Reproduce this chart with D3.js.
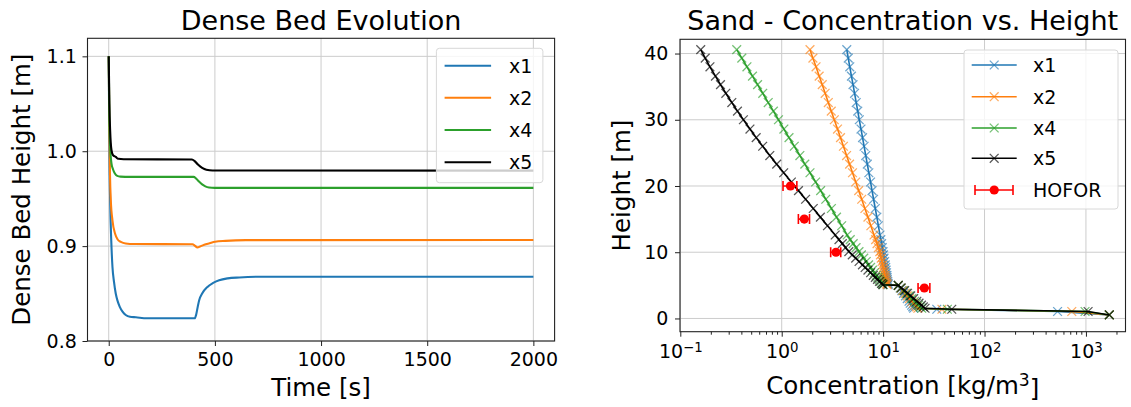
<!DOCTYPE html>
<html>
<head>
<meta charset="utf-8">
<script src="https://cdn.jsdelivr.net/npm/d3@7"></script>
<style>
  body { margin: 0; background: #fff; }
  svg { display: block; }
  text { font-family: "DejaVu Sans", sans-serif; fill: #000; }
</style>
</head>
<body>
<svg id="fig" width="1131" height="407"></svg>
<script>
// ---------------- Dense bed evolution (time series) ----------------
const bedNames = ["x1", "x2", "x4", "x5"];
const timeTicks = [0, 500, 1000, 1500, 2000];
const bedTicks = [0.8, 0.9, 1.0, 1.1];

const bedTimeX1 = [0, 3, 6.6, 12, 17.6, 25, 33, 42, 52, 65, 80, 100, 128, 180, 300, 405, 412, 420, 426, 440, 465, 490, 520, 560, 615, 709, 2000];
const bedX1 = [1.1, 1.0, 0.948, 0.905, 0.878, 0.862, 0.85, 0.842, 0.836, 0.831, 0.8274, 0.8255, 0.825, 0.824, 0.8239, 0.8239, 0.828, 0.837, 0.843, 0.85, 0.857, 0.861, 0.864, 0.866, 0.867, 0.8677, 0.8677];

const bedTimeX2 = [0, 3, 6, 9.8, 17.6, 30, 42, 57, 80, 120, 395, 405, 418, 430, 450, 475, 501, 550, 646, 2000];
const bedX2 = [1.1, 1.02, 0.975, 0.948, 0.927, 0.913, 0.907, 0.9045, 0.9028, 0.9022, 0.902, 0.9005, 0.8986, 0.8995, 0.9015, 0.903, 0.9045, 0.9055, 0.9063, 0.9065];

const bedTimeX4 = [0, 3, 6.6, 13, 20, 29, 40, 55, 100, 400, 410, 425, 440, 455, 472, 500, 2000];
const bedX4 = [1.1, 1.03, 1.005, 0.987, 0.981, 0.9765, 0.974, 0.9732, 0.973, 0.973, 0.9715, 0.968, 0.965, 0.963, 0.9618, 0.9614, 0.9614];

const bedTimeX5 = [0, 3, 6.6, 13, 20, 33, 45, 70, 392, 405, 420, 440, 460, 489, 2000];
const bedX5 = [1.1, 1.05, 1.022, 1.001, 0.996, 0.994, 0.992, 0.9915, 0.9913, 0.9895, 0.986, 0.9825, 0.9805, 0.9797, 0.9795];

// ---------------- Sand concentration profiles ----------------
const profileNames = ["x1", "x2", "x4", "x5"];
const concTicks = [0.1, 1, 10, 100, 1000];
const concTickExp = ["\u22121", "0", "1", "2", "3"];
const heightTicks = [0, 10, 20, 30, 40];

const heights = [40.6, 39.3, 38.0, 36.6, 35.3, 34.0, 32.6, 31.3, 30.0, 28.6, 27.3, 26.0, 24.6, 23.3, 22.0, 20.6, 19.3, 18.0, 16.6, 15.3, 14.0, 12.6,
  11.9, 11.3, 10.7, 10.1, 9.6, 9.1, 8.6, 8.1, 7.7, 7.3, 6.9, 6.5, 6.2, 5.9, 5.6, 5.3, 5.1,
  5.0, 4.6, 4.2, 3.8, 3.4, 3.0, 2.6, 2.3, 2.0, 1.75, 1.54,
  1.39, 1.05, 0.53];

const concX1 = [4.38, 4.53, 4.69, 4.87, 5.05, 5.23, 5.43, 5.62, 5.82, 6.05, 6.27, 6.49, 6.74, 6.98, 7.23, 7.52, 7.78, 8.05, 8.37, 8.67, 8.97, 9.31,
  9.49, 9.66, 9.81, 9.98, 10.1, 10.2, 10.35, 10.5, 10.6, 10.7, 10.8, 10.9, 10.95, 11.0, 11.1, 11.2, 11.2,
  14.1, 14.7, 15.3, 15.9, 16.6, 17.3, 18.0, 18.5, 19.1, 19.6, 20.0,
  33.8, 525, 1700];
const concX2 = [1.90, 2.03, 2.18, 2.34, 2.51, 2.68, 2.88, 3.08, 3.30, 3.55, 3.80, 4.06, 4.36, 4.67, 4.99, 5.37, 5.74, 6.15, 6.61, 7.08, 7.57, 8.13,
  8.43, 8.71, 8.98, 9.27, 9.42, 9.59, 9.75, 9.91, 10.05, 10.2, 10.3, 10.45, 10.55, 10.65, 10.8, 10.9, 10.95,
  14.1, 14.9, 15.6, 16.5, 17.3, 18.2, 19.2, 19.9, 20.7, 21.4, 22.0,
  38, 725, 1700];
const concX4 = [0.360, 0.404, 0.454, 0.515, 0.578, 0.650, 0.736, 0.828, 0.929, 1.05, 1.18, 1.33, 1.51, 1.69, 1.90, 2.16, 2.42, 2.72, 3.09, 3.47, 3.90, 4.42,
  4.74, 5.07, 5.41, 5.78, 6.11, 6.44, 6.81, 7.19, 7.52, 7.85, 8.20, 8.57, 8.87, 9.16, 9.46, 9.78, 10.0,
  14.1, 15.0, 16.0, 17.0, 18.1, 19.2, 20.4, 21.4, 22.4, 23.2, 24.0,
  43, 980, 1700];
const concX5 = [0.159, 0.176, 0.196, 0.222, 0.249, 0.281, 0.322, 0.366, 0.419, 0.486, 0.560, 0.649, 0.763, 0.892, 1.046, 1.245, 1.463, 1.720, 2.047, 2.406, 2.828, 3.367,
  3.67, 3.96, 4.26, 4.59, 4.96, 5.36, 5.79, 6.25, 6.65, 7.08, 7.53, 8.00, 8.38, 8.79, 9.20, 9.64, 9.93,
  14.1, 15.1, 16.3, 17.4, 18.7, 20.0, 21.5, 22.6, 23.9, 24.9, 25.9,
  47.5, 1050, 1700];

// field measurements with horizontal error
const hoforHeight = [20, 15, 10, 4.6];
const hoforConc = [1.22, 1.67, 3.43, 25.5];
const hoforErr = [0.19, 0.21, 0.39, 3.4];

const seriesColors = ["#1f77b4", "#ff7f0e", "#2ca02c", "#000000"];

// ================= drawing =================
const svg = d3.select("#fig");
const TICK_FS = 19, LABEL_FS = 24.5, TITLE_FS = 27, LEGEND_FS = 19;
const GRID = "#cccccc", FRAME = "#222";

function styleAxis(g) {
  g.select(".domain").remove();
  g.selectAll(".tick line").attr("stroke", FRAME).attr("stroke-width", 1);
  g.selectAll(".tick text").attr("font-size", TICK_FS).attr("font-family", '"DejaVu Sans", sans-serif').attr("fill", "#000");
}

// ---------- left panel ----------
const L = { x0: 87.5, x1: 554.6, y0: 38.3, y1: 341 };
const xL = d3.scaleLinear().domain([-100, 2100]).range([L.x0, L.x1]);
const yL = d3.scaleLinear().domain([0.8, 1.119]).range([L.y1, L.y0]);

const gL = svg.append("g");
gL.append("defs").append("clipPath").attr("id", "clipL")
  .append("rect").attr("x", L.x0).attr("y", L.y0).attr("width", L.x1 - L.x0).attr("height", L.y1 - L.y0);

gL.append("g").selectAll("line").data(timeTicks).join("line")
  .attr("x1", d => xL(d)).attr("x2", d => xL(d)).attr("y1", L.y0).attr("y2", L.y1)
  .attr("stroke", GRID).attr("stroke-width", 1);
gL.append("g").selectAll("line").data(bedTicks).join("line")
  .attr("x1", L.x0).attr("x2", L.x1).attr("y1", d => yL(d)).attr("y2", d => yL(d))
  .attr("stroke", GRID).attr("stroke-width", 1);

const bedData = [
  d3.zip(bedTimeX1, bedX1), d3.zip(bedTimeX2, bedX2),
  d3.zip(bedTimeX4, bedX4), d3.zip(bedTimeX5, bedX5)
];
const bedLine = d3.line().x(d => xL(d[0])).y(d => yL(d[1])).curve(d3.curveMonotoneX);
gL.append("g").attr("clip-path", "url(#clipL)").selectAll("path").data(bedData).join("path")
  .attr("d", bedLine).attr("fill", "none")
  .attr("stroke", (d, i) => seriesColors[i]).attr("stroke-width", 2.1);

gL.append("rect").attr("x", L.x0).attr("y", L.y0).attr("width", L.x1 - L.x0).attr("height", L.y1 - L.y0)
  .attr("fill", "none").attr("stroke", FRAME).attr("stroke-width", 1.1);

gL.append("g").attr("transform", `translate(0,${L.y1})`)
  .call(d3.axisBottom(xL).tickValues(timeTicks).tickSize(5).tickPadding(6.5).tickFormat(d3.format("d")))
  .call(styleAxis);
gL.append("g").attr("transform", `translate(${L.x0},0)`)
  .call(d3.axisLeft(yL).tickValues(bedTicks).tickSize(5).tickPadding(5.7).tickFormat(d3.format(".1f")))
  .call(styleAxis);

gL.append("text").attr("x", (L.x0 + L.x1) / 2).attr("y", 29.5).attr("text-anchor", "middle")
  .attr("font-size", TITLE_FS).text("Dense Bed Evolution");
gL.append("text").attr("x", (L.x0 + L.x1) / 2).attr("y", 396).attr("text-anchor", "middle")
  .attr("font-size", LABEL_FS).text("Time [s]");
gL.append("text").attr("transform", `translate(30,${(L.y0 + L.y1) / 2}) rotate(-90)`).attr("text-anchor", "middle")
  .attr("font-size", LABEL_FS).text("Dense Bed Height [m]");

// legend (left)
const legL = gL.append("g");
legL.append("rect").attr("x", 436.4).attr("y", 48.3).attr("width", 106.5).attr("height", 134.4).attr("rx", 3)
  .attr("fill", "#fff").attr("fill-opacity", 0.8).attr("stroke", "#d8d8d8");
const legLRows = [65.7, 97.7, 130, 162.3];
bedNames.forEach((name, i) => {
  legL.append("line").attr("x1", 444.6).attr("x2", 491.1).attr("y1", legLRows[i]).attr("y2", legLRows[i])
    .attr("stroke", seriesColors[i]).attr("stroke-width", 2.1);
  legL.append("text").attr("x", 509).attr("y", legLRows[i]).attr("dy", "0.36em")
    .attr("font-size", LEGEND_FS).text(name);
});

// ---------- right panel ----------
const R = { x0: 680, x1: 1125.5, y0: 39.3, y1: 331.7 };
const xR = d3.scaleLog().domain([Math.pow(10, -1.003), Math.pow(10, 3.39)]).range([R.x0, R.x1]);
const yR = d3.scaleLinear().domain([-2.0, 42.15]).range([R.y1, R.y0]);

const gR = svg.append("g");
gR.append("defs").append("clipPath").attr("id", "clipR")
  .append("rect").attr("x", R.x0).attr("y", R.y0).attr("width", R.x1 - R.x0).attr("height", R.y1 - R.y0);

gR.append("g").selectAll("line").data(concTicks).join("line")
  .attr("x1", d => xR(d)).attr("x2", d => xR(d)).attr("y1", R.y0).attr("y2", R.y1)
  .attr("stroke", GRID).attr("stroke-width", 1);
gR.append("g").selectAll("line").data(heightTicks).join("line")
  .attr("x1", R.x0).attr("x2", R.x1).attr("y1", d => yR(d)).attr("y2", d => yR(d))
  .attr("stroke", GRID).attr("stroke-width", 1);

const profiles = [concX1, concX2, concX4, concX5].map(c => d3.zip(c, heights));
const profLine = d3.line().x(d => xR(d[0])).y(d => yR(d[1]));
const plotR = gR.append("g").attr("clip-path", "url(#clipR)");
const xMark = d3.symbol().type(d3.symbolX).size(52);
profiles.forEach((pts, i) => {
  const g = plotR.append("g");
  g.append("path").attr("d", profLine(pts)).attr("fill", "none")
    .attr("stroke", seriesColors[i]).attr("stroke-width", 1.6);
  g.selectAll("path.mk").data(pts).join("path").attr("class", "mk")
    .attr("transform", d => `translate(${xR(d[0])},${yR(d[1])})`)
    .attr("d", xMark).attr("fill", "none")
    .attr("stroke", seriesColors[i]).attr("stroke-width", 1.3).attr("stroke-opacity", 0.65);
});

// measured points with error bars
const hofor = d3.range(hoforHeight.length).map(i => ({ h: hoforHeight[i], c: hoforConc[i], e: hoforErr[i] }));
const hg = plotR.append("g").selectAll("g").data(hofor).join("g");
hg.append("line").attr("x1", d => xR(d.c - d.e)).attr("x2", d => xR(d.c + d.e))
  .attr("y1", d => yR(d.h)).attr("y2", d => yR(d.h)).attr("stroke", "red").attr("stroke-width", 1.6);
hg.append("line").attr("x1", d => xR(d.c - d.e)).attr("x2", d => xR(d.c - d.e))
  .attr("y1", d => yR(d.h) - 5).attr("y2", d => yR(d.h) + 5).attr("stroke", "red").attr("stroke-width", 1.6);
hg.append("line").attr("x1", d => xR(d.c + d.e)).attr("x2", d => xR(d.c + d.e))
  .attr("y1", d => yR(d.h) - 5).attr("y2", d => yR(d.h) + 5).attr("stroke", "red").attr("stroke-width", 1.6);
hg.append("circle").attr("cx", d => xR(d.c)).attr("cy", d => yR(d.h)).attr("r", 4.6).attr("fill", "red");

gR.append("rect").attr("x", R.x0).attr("y", R.y0).attr("width", R.x1 - R.x0).attr("height", R.y1 - R.y0)
  .attr("fill", "none").attr("stroke", FRAME).attr("stroke-width", 1.1);

// x axis: decades with superscript labels, minor ticks in between
const minorTicks = xR.ticks().filter(v => !concTicks.some(t => Math.abs(v - t) < 1e-9));
gR.append("g").attr("transform", `translate(0,${R.y1})`)
  .call(d3.axisBottom(xR).tickValues(minorTicks).tickSize(3).tickFormat(""))
  .call(styleAxis);
const xAx = gR.append("g").attr("transform", `translate(0,${R.y1})`)
  .call(d3.axisBottom(xR).tickValues(concTicks).tickSize(5).tickFormat(""))
  .call(styleAxis);
xAx.selectAll(".tick").each(function (d, i) {
  const t = d3.select(this).select("text");
  t.attr("y", 26.6).attr("dy", null).attr("font-size", TICK_FS);
  t.append("tspan").text("10");
  t.append("tspan").attr("dy", "-0.45em").attr("font-size", TICK_FS * 0.7).text(concTickExp[i]);
});
gR.append("g").attr("transform", `translate(${R.x0},0)`)
  .call(d3.axisLeft(yR).tickValues(heightTicks).tickSize(5).tickPadding(6.7).tickFormat(d3.format("d")))
  .call(styleAxis);

gR.append("text").attr("x", (R.x0 + R.x1) / 2).attr("y", 30).attr("text-anchor", "middle")
  .attr("font-size", TITLE_FS).text("Sand - Concentration vs. Height");
const xl = gR.append("text").attr("x", (R.x0 + R.x1) / 2).attr("y", 394).attr("text-anchor", "middle")
  .attr("font-size", LABEL_FS);
xl.append("tspan").text("Concentration [kg/m");
xl.append("tspan").attr("dy", "-0.45em").attr("font-size", LABEL_FS * 0.7).text("3");
xl.append("tspan").attr("dy", "0.45em").text("]");
gR.append("text").attr("transform", `translate(630,${(R.y0 + R.y1) / 2}) rotate(-90)`).attr("text-anchor", "middle")
  .attr("font-size", LABEL_FS).text("Height [m]");

// legend (right)
const legR = gR.append("g");
legR.append("rect").attr("x", 964).attr("y", 50).attr("width", 154).attr("height", 159).attr("rx", 3)
  .attr("fill", "#fff").attr("fill-opacity", 0.8).attr("stroke", "#d8d8d8");
const legRRows = [65, 96.7, 128, 158.3, 190];
const legLineX = [971.7, 1016.7], legMid = 994.2, legText = 1033;
profileNames.forEach((name, i) => {
  legR.append("line").attr("x1", legLineX[0]).attr("x2", legLineX[1]).attr("y1", legRRows[i]).attr("y2", legRRows[i])
    .attr("stroke", seriesColors[i]).attr("stroke-width", 1.6);
  legR.append("path").attr("transform", `translate(${legMid},${legRRows[i]})`).attr("d", xMark)
    .attr("fill", "none").attr("stroke", seriesColors[i]).attr("stroke-width", 1.3).attr("stroke-opacity", 0.65);
  legR.append("text").attr("x", legText).attr("y", legRRows[i]).attr("dy", "0.36em")
    .attr("font-size", LEGEND_FS).text(name);
});
const hy = legRRows[4];
legR.append("line").attr("x1", 975).attr("x2", 1013).attr("y1", hy).attr("y2", hy).attr("stroke", "red").attr("stroke-width", 1.6);
legR.append("line").attr("x1", 975).attr("x2", 975).attr("y1", hy - 5).attr("y2", hy + 5).attr("stroke", "red").attr("stroke-width", 1.6);
legR.append("line").attr("x1", 1013).attr("x2", 1013).attr("y1", hy - 5).attr("y2", hy + 5).attr("stroke", "red").attr("stroke-width", 1.6);
legR.append("circle").attr("cx", legMid).attr("cy", hy).attr("r", 4.6).attr("fill", "red");
legR.append("text").attr("x", legText).attr("y", hy).attr("dy", "0.36em").attr("font-size", LEGEND_FS).text("HOFOR");
</script>
</body>
</html>
